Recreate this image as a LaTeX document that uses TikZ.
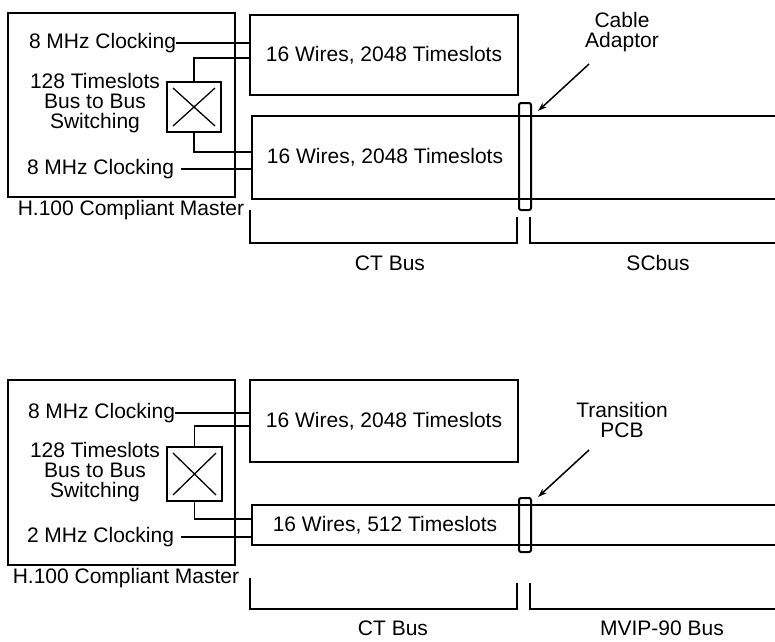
\documentclass[tikz,border=0pt]{standalone}
\usepackage{fontspec}
\setmainfont{Liberation Sans}
\usetikzlibrary{positioning,arrows.meta}

\begin{document}
\begin{tikzpicture}[x=1pt, y=-1pt, line width=2pt,
    every node/.style={font=\fontsize{21}{20}\selectfont, inner sep=0pt, outer sep=0pt},
    master/.style={rectangle, draw, minimum width=227pt, minimum height=184pt},
    busbox/.style={rectangle, draw, minimum width=268pt, minimum height=80pt},
    switchbox/.style={rectangle, draw, minimum width=54pt, minimum height=50pt},
    adaptor/.style={rectangle, draw, rounded corners=2pt, minimum width=12pt},
    wire/.style={line width=1.8pt},
    bracket/.style={line width=1.8pt},
    cross/.style={line width=1.3pt},
    pointer/.style={line width=1.5pt, -{Stealth[length=9pt, width=6pt]}}
]
    \useasboundingbox (0,0) rectangle (775,641);

    % upper half: CT Bus with SCbus
    \node[master] (master1) at (121.5,105) {};
    \node (name1) at (131,210) {H.100 Compliant Master};
    \node[align=center] (swtxt1) at (95,103) {128 Timeslots\\Bus to Bus\\Switching};
    \node[switchbox] (sw1) at (194,107) {};
    \draw[cross] ([shift={(6,6)}]sw1.north west) -- ([shift={(-6,-6)}]sw1.south east)
                 ([shift={(-6,6)}]sw1.north east) -- ([shift={(6,-6)}]sw1.south west);
    \node[anchor=west] (clk1a) at (29,43) {8 MHz Clocking};
    \node[anchor=west] (clk1b) at (27,169) {8 MHz Clocking};

    \node[busbox] (bus1a) at (384,55) {16 Wires, 2048 Timeslots};
    \node[minimum width=266pt, minimum height=83pt] (bus1b) at (385,157.5) {16 Wires, 2048 Timeslots};
    \coordinate (end1t) at (775,116);
    \coordinate (end1b) at (775,199);
    \draw (end1t) -- (bus1b.north west) -- (bus1b.south west) -- (end1b);

    \node[adaptor, minimum height=107pt] (adp1) at (525,156.5) {};
    \node[align=center] (adpl1) at (622,32) {Cable\\Adaptor};
    \coordinate (ptr1) at (589,64);
    \draw[pointer] (ptr1) -- ([shift={(7,8)}]adp1.north east);

    \draw[wire] (clk1a.east) -- (clk1a.east -| bus1a.west);
    \draw[wire] (sw1.north) |- ([yshift=-3pt]bus1a.west);
    \draw[wire] (sw1.south) |- ([yshift=5.5pt]bus1b.west);
    \draw[wire] ([xshift=7pt]clk1b.east) -- (clk1b.east -| bus1b.west);

    \draw[bracket] (250,210) |- (517,243) -- (517,217);
    \draw[bracket] (530,217) |- (775,243);
    \node (ct1) at (390,263) {CT Bus};
    \node (sc1) at (658,263) {SCbus};

    % lower half: CT Bus with MVIP-90 Bus
    \node[master, minimum height=185pt] (master2) at (121.5,472.5) {};
    \node (name2) at (126,578) {H.100 Compliant Master};
    \node[align=center] (swtxt2) at (95,472) {128 Timeslots\\Bus to Bus\\Switching};
    \node[switchbox, minimum width=55pt, minimum height=54pt] (sw2) at (194.5,474) {};
    \draw[cross] ([shift={(6,6)}]sw2.north west) -- ([shift={(-6,-6)}]sw2.south east)
                 ([shift={(-6,6)}]sw2.north east) -- ([shift={(6,-6)}]sw2.south west);
    \node[anchor=west] (clk2a) at (28,413) {8 MHz Clocking};
    \node[anchor=west] (clk2b) at (27,537) {2 MHz Clocking};

    \node[busbox, minimum height=82pt] (bus2a) at (384,421) {16 Wires, 2048 Timeslots};
    \node[minimum width=266pt, minimum height=40pt] (bus2b) at (385,525) {16 Wires, 512 Timeslots};
    \coordinate (end2t) at (775,505);
    \coordinate (end2b) at (775,545);
    \draw (end2t) -- (bus2b.north west) -- (bus2b.south west) -- (end2b);

    \node[adaptor, minimum height=54pt] (adp2) at (525,525) {};
    \node[align=center] (adpl2) at (622,420) {Transition\\PCB};
    \coordinate (ptr2) at (589,450);
    \draw[pointer] (ptr2) -- ([shift={(7,-1)}]adp2.north east);

    \draw[wire] (clk2a.east) -- (clk2a.east -| bus2a.west);
    \draw[wire] (sw2.north) |- ([yshift=-5pt]bus2a.west);
    \draw[wire] (sw2.south) |- ([yshift=6pt]bus2b.west);
    \draw[wire] ([xshift=7pt]clk2b.east) -- (clk2b.east -| bus2b.west);

    \draw[bracket] (250,578) |- (517,609) -- (517,583);
    \draw[bracket] (530,583) |- (775,609);
    \node (ct2) at (393,628) {CT Bus};
    \node (mv2) at (662,628) {MVIP-90 Bus};

\end{tikzpicture}
\end{document}
